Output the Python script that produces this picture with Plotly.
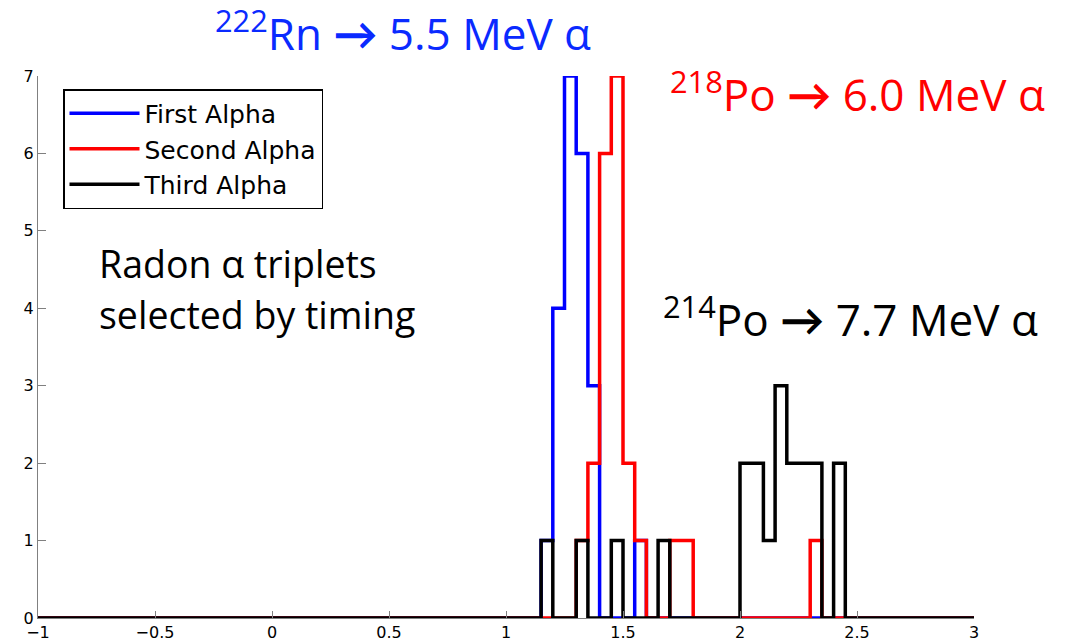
import plotly.graph_objects as go

# ---- data ----
bin_lefts = [1.15, 1.20, 1.25, 1.30, 1.35, 1.40, 1.45, 1.50, 1.55, 1.60, 1.65, 1.70, 1.75,
             1.80, 1.85, 1.90, 1.95, 2.00, 2.05, 2.10, 2.15, 2.20, 2.25, 2.30, 2.35, 2.40]
bin_right_end = 2.45
x_min, x_max = -1, 3

first_alpha = [1, 4, 7, 6, 3, 0, 0, 0, 1, 0, 0, 0, 0, 0, 0, 0, 0, 0, 0, 0, 0, 0, 0, 0, 0, 0]
second_alpha = [0, 0, 0, 1, 2, 6, 7, 2, 1, 0, 0, 1, 1, 0, 0, 0, 0, 0, 0, 0, 0, 0, 0, 1, 0, 0]
third_alpha = [1, 0, 0, 1, 0, 0, 1, 0, 0, 0, 1, 0, 0, 0, 0, 0, 0, 2, 2, 1, 3, 2, 2, 2, 0, 2]

series_names = ["First Alpha", "Second Alpha", "Third Alpha"]
series_colors = ["#0000ff", "#ff0000", "#000000"]
x_tick_vals = [-1, -0.5, 0, 0.5, 1, 1.5, 2, 2.5, 3]
x_tick_text = ["\u22121", "\u22120.5", "0", "0.5", "1", "1.5", "2", "2.5", "3"]
y_tick_vals = [0, 1, 2, 3, 4, 5, 6, 7]

# ---- geometry ----
W, H = 1069, 643
L, R, T, B = 38, 974, 76, 618


def pxx(px):
    return (px - L) / (R - L)


def pxy(py):
    return (B - py) / (B - T)


def stairs(counts):
    xs = [x_min] + bin_lefts + [bin_right_end, x_max]
    ys = [0] + counts + [0, 0]
    return xs, ys


fig = go.Figure()
for i, (name, counts, color) in enumerate(zip(series_names, [first_alpha, second_alpha, third_alpha], series_colors)):
    xs, ys = stairs(counts)
    fig.add_trace(go.Scatter(
        x=xs, y=ys, mode="lines", name=name,
        line=dict(color=color, width=3.5, shape="hv"),
        cliponaxis=False, legendgroup=name,
    ))

font_text = "'Open Sans', Lato, 'DejaVu Sans', sans-serif"
annots = [
    dict(text="<sup>222</sup>Rn <b>\u2192</b> 5.5 MeV \u03b1", x=pxx(213), y=pxy(31), color="#0a2aff", size=44),
    dict(text="<sup>218</sup>Po <b>\u2192</b> 6.0 MeV \u03b1", x=pxx(668), y=pxy(92), color="#ff0000", size=44),
    dict(text="<sup>214</sup>Po <b>\u2192</b> 7.7 MeV \u03b1", x=pxx(661), y=pxy(317), color="#000000", size=44),
    dict(text="Radon \u03b1 triplets", x=pxx(97), y=pxy(263), color="#000000", size=37.5),
    dict(text="selected by timing", x=pxx(97), y=pxy(314), color="#000000", size=37.5),
]
for a in annots:
    fig.add_annotation(
        text=a["text"], x=a["x"], y=a["y"], xref="paper", yref="paper",
        xanchor="left", yanchor="middle", showarrow=False,
        font=dict(family=font_text, size=a["size"], color=a["color"]),
    )

tick_font = dict(family="'DejaVu Sans', 'Liberation Sans', sans-serif", size=16, color="#000000")
fig.update_layout(
    width=W, height=H,
    margin=dict(l=L, r=W - R, t=T, b=H - B, pad=0),
    plot_bgcolor="white", paper_bgcolor="white",
    showlegend=True,
    legend=dict(
        x=pxx(63), y=pxy(89), xanchor="left", yanchor="top",
        bgcolor="white", bordercolor="#000000", borderwidth=1.5,
        font=dict(family="'DejaVu Sans', 'Liberation Sans', sans-serif", size=25, color="#000000"),
        itemwidth=70, tracegroupgap=0,
    ),
    xaxis=dict(
        range=[x_min, x_max], tickvals=x_tick_vals, ticktext=x_tick_text,
        ticks="inside", ticklen=7, tickcolor="#808080", tickwidth=1,
        showline=True, linecolor="#808080", linewidth=1,
        showgrid=False, zeroline=False, tickfont=tick_font, automargin=False,
    ),
    yaxis=dict(
        range=[0, 7], tickvals=y_tick_vals,
        ticks="inside", ticklen=8, tickcolor="#808080", tickwidth=1,
        showline=True, linecolor="#808080", linewidth=1,
        showgrid=False, zeroline=False, tickfont=tick_font, automargin=False,
    ),
)

fig.write_html("out.html")
